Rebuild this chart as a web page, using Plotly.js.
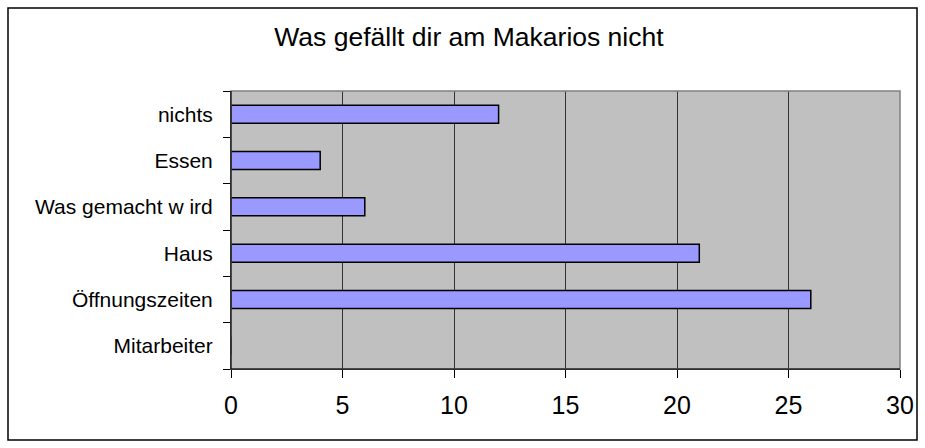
<!DOCTYPE html>
<html>
<head>
<meta charset="utf-8">
<script src="https://cdn.plot.ly/plotly-3.0.1.min.js"></script>
<style>html,body{margin:0;padding:0;background:#fff;}#chart{width:925px;height:448px;}</style>
</head>
<body>
<div id="chart"></div>
<script>
const categories = ["Mitarbeiter", "Öffnungszeiten", "Haus", "Was gemacht w ird", "Essen", "nichts"];
const values = [0, 26, 21, 6, 4, 12];
const xTicks = [0, 5, 10, 15, 20, 25, 30];

const W = 925, H = 448;
const m = {l: 231, r: 25, t: 91, b: 79};
const pw = W - m.l - m.r, ph = H - m.t - m.b;
const px = x => (x - m.l) / pw;
const py = y => (H - m.b - y) / ph;

const trace = {
  type: 'bar',
  orientation: 'h',
  y: categories,
  x: values,
  width: 0.39,
  marker: {color: '#9999ff', line: {color: '#000000', width: 1.5}},
  hoverinfo: 'none'
};

const layout = {
  width: W, height: H,
  margin: m,
  paper_bgcolor: '#ffffff',
  plot_bgcolor: '#c0c0c0',
  showlegend: false,
  font: {family: 'Liberation Sans, Arial, sans-serif', color: '#000'},
  title: {text: 'Was gefällt dir am Makarios nicht', font: {size: 26.5, color: '#000'}, x: 0.507, xanchor: 'center', y: 0.918, yanchor: 'middle'},
  xaxis: {
    range: [0, 30],
    tickvals: xTicks,
    ticktext: xTicks.map(String),
    ticks: 'outside', ticklen: 8, tickcolor: '#000', tickwidth: 1,
    showgrid: true, gridcolor: '#333333', gridwidth: 1,
    zeroline: false,
    showline: true, linecolor: '#000', linewidth: 1,
    tickfont: {size: 25},
    ticklabelstandoff: 6,
    fixedrange: true
  },
  yaxis: {
    type: 'category',
    ticks: 'outside', tickson: 'boundaries', ticklen: 7, tickcolor: '#000', tickwidth: 1,
    showgrid: false, zeroline: false,
    showline: true, linecolor: '#000', linewidth: 1,
    tickfont: {size: 21},
    ticklabelstandoff: 13,
    fixedrange: true
  },
  shapes: [
    {type: 'rect', xref: 'paper', yref: 'paper', x0: 0, x1: 1, y0: 0, y1: 1, line: {color: '#808080', width: 1.5}, layer: 'above'},
    {type: 'line', xref: 'paper', yref: 'paper', x0: 0, x1: 1, y0: 0, y1: 0, line: {color: '#000', width: 1}, layer: 'above'},
    {type: 'line', xref: 'paper', yref: 'paper', x0: 0, x1: 0, y0: 0, y1: 1, line: {color: '#000', width: 1}, layer: 'above'},
    {type: 'rect', xref: 'paper', yref: 'paper', x0: px(8), x1: px(917), y0: py(440), y1: py(8), line: {color: '#000', width: 1.5}, layer: 'below'}
  ]
};

Plotly.newPlot('chart', [trace], layout, {displayModeBar: false, staticPlot: true});
</script>
</body>
</html>
